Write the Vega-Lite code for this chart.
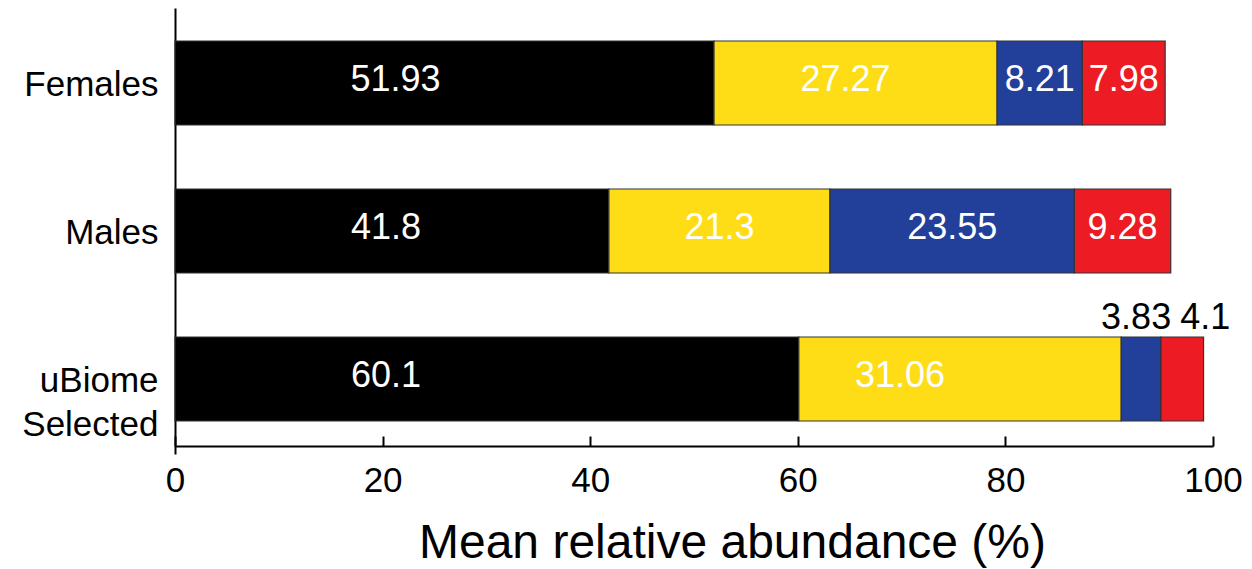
{
  "$schema": "https://vega.github.io/schema/vega-lite/v6.json",
  "autosize": "none",
  "width": 1038,
  "height": 446,
  "padding": {"left": 175, "top": 8, "right": 39, "bottom": 115},
  "background": "white",
  "config": {
    "font": "Liberation Sans",
    "view": {"stroke": null},
    "text": {"font": "Liberation Sans"}
  },
  "data": {
    "values": [
      {"group": "Females", "seg": 1, "value": 51.93},
      {"group": "Females", "seg": 2, "value": 27.27},
      {"group": "Females", "seg": 3, "value": 8.21},
      {"group": "Females", "seg": 4, "value": 7.98},
      {"group": "Males", "seg": 1, "value": 41.8},
      {"group": "Males", "seg": 2, "value": 21.3},
      {"group": "Males", "seg": 3, "value": 23.55},
      {"group": "Males", "seg": 4, "value": 9.28},
      {"group": "uBiome Selected", "seg": 1, "value": 60.1},
      {"group": "uBiome Selected", "seg": 2, "value": 31.06},
      {"group": "uBiome Selected", "seg": 3, "value": 3.83},
      {"group": "uBiome Selected", "seg": 4, "value": 4.1}
    ]
  },
  "encoding": {
    "y": {
      "field": "group",
      "type": "nominal",
      "scale": {"domain": ["Females", "Males", "uBiome Selected"], "paddingInner": 0.4324, "paddingOuter": 0.223},
      "axis": {
        "title": null,
        "ticks": false,
        "domainColor": "black",
        "domainWidth": 2,
        "labelFontSize": 35,
        "labelColor": "black",
        "labelPadding": 17,
        "labelBaseline": "alphabetic",
        "labelOffset": 13,
        "labelLineHeight": 44,
        "labelExpr": "datum.value == 'uBiome Selected' ? ['uBiome', 'Selected'] : datum.value"
      }
    }
  },
  "layer": [
    {
      "mark": {"type": "bar", "stroke": "#333333", "strokeWidth": 1.2, "height": 84},
      "encoding": {
        "x": {
          "field": "value",
          "type": "quantitative",
          "stack": "zero",
          "scale": {"domain": [0, 100], "nice": false},
          "axis": {
            "title": "Mean relative abundance (%)",
            "values": [0, 20, 40, 60, 80, 100],
            "grid": false,
            "offset": -8,
            "domainColor": "black",
            "domainWidth": 2,
            "tickColor": "black",
            "tickWidth": 2,
            "tickSize": -10,
            "labelFontSize": 35,
            "labelColor": "black",
            "labelPadding": 27,
            "labelFlush": false,
            "titleFontSize": 48,
            "titleFontWeight": "normal",
            "titleColor": "black",
            "titleX": 557,
            "titleY": 111,
            "titleBaseline": "alphabetic"
          }
        },
        "order": {"field": "seg", "type": "quantitative"},
        "color": {
          "field": "seg",
          "type": "nominal",
          "scale": {"domain": [1, 2, 3, 4], "range": ["#000000", "#FEDD17", "#22409A", "#ED1C24"]},
          "legend": null
        }
      }
    },
    {
      "transform": [
        {"stack": "value", "groupby": ["group"], "sort": [{"field": "seg"}], "as": ["lo", "hi"]},
        {"calculate": "(datum.lo + datum.hi) / 2", "as": "mid"},
        {"filter": "(datum.group == 'Females' && datum.seg >= 3) || (datum.group == 'Males' && datum.seg >= 2)"}
      ],
      "mark": {"type": "text", "color": "white", "fontSize": 36, "baseline": "alphabetic", "dy": 8},
      "encoding": {"x": {"field": "mid", "type": "quantitative"}, "text": {"field": "value", "type": "nominal"}}
    },
    {
      "transform": [
        {"stack": "value", "groupby": ["group"], "sort": [{"field": "seg"}], "as": ["lo", "hi"]},
        {"calculate": "(datum.lo + datum.hi) / 2", "as": "mid"},
        {"filter": "datum.group == 'Females' && datum.seg == 1"}
      ],
      "mark": {"type": "text", "color": "white", "fontSize": 36, "baseline": "alphabetic", "dy": 8, "dx": -49},
      "encoding": {"x": {"field": "mid", "type": "quantitative"}, "text": {"field": "value", "type": "nominal"}}
    },
    {
      "transform": [
        {"stack": "value", "groupby": ["group"], "sort": [{"field": "seg"}], "as": ["lo", "hi"]},
        {"calculate": "(datum.lo + datum.hi) / 2", "as": "mid"},
        {"filter": "datum.group == 'Females' && datum.seg == 2"}
      ],
      "mark": {"type": "text", "color": "white", "fontSize": 36, "baseline": "alphabetic", "dy": 8, "dx": -10},
      "encoding": {"x": {"field": "mid", "type": "quantitative"}, "text": {"field": "value", "type": "nominal"}}
    },
    {
      "transform": [
        {"stack": "value", "groupby": ["group"], "sort": [{"field": "seg"}], "as": ["lo", "hi"]},
        {"calculate": "(datum.lo + datum.hi) / 2", "as": "mid"},
        {"filter": "datum.group == 'Males' && datum.seg == 1"}
      ],
      "mark": {"type": "text", "color": "white", "fontSize": 36, "baseline": "alphabetic", "dy": 8, "dx": -6},
      "encoding": {"x": {"field": "mid", "type": "quantitative"}, "text": {"field": "value", "type": "nominal"}}
    },
    {
      "transform": [
        {"stack": "value", "groupby": ["group"], "sort": [{"field": "seg"}], "as": ["lo", "hi"]},
        {"calculate": "(datum.lo + datum.hi) / 2", "as": "mid"},
        {"filter": "datum.group == 'uBiome Selected' && datum.seg == 1"}
      ],
      "mark": {"type": "text", "color": "white", "fontSize": 36, "baseline": "alphabetic", "dy": 8, "dx": -101},
      "encoding": {"x": {"field": "mid", "type": "quantitative"}, "text": {"field": "value", "type": "nominal"}}
    },
    {
      "transform": [
        {"stack": "value", "groupby": ["group"], "sort": [{"field": "seg"}], "as": ["lo", "hi"]},
        {"calculate": "(datum.lo + datum.hi) / 2", "as": "mid"},
        {"filter": "datum.group == 'uBiome Selected' && datum.seg == 2"}
      ],
      "mark": {"type": "text", "color": "white", "fontSize": 36, "baseline": "alphabetic", "dy": 8, "dx": -60},
      "encoding": {"x": {"field": "mid", "type": "quantitative"}, "text": {"field": "value", "type": "nominal"}}
    },
    {
      "transform": [
        {"stack": "value", "groupby": ["group"], "sort": [{"field": "seg"}], "as": ["lo", "hi"]},
        {"calculate": "(datum.lo + datum.hi) / 2", "as": "mid"},
        {"filter": "datum.group == 'uBiome Selected' && datum.seg == 3"}
      ],
      "mark": {"type": "text", "color": "black", "fontSize": 36, "baseline": "alphabetic", "dy": -50, "dx": -5},
      "encoding": {"x": {"field": "mid", "type": "quantitative"}, "text": {"field": "value", "type": "nominal"}}
    },
    {
      "transform": [
        {"stack": "value", "groupby": ["group"], "sort": [{"field": "seg"}], "as": ["lo", "hi"]},
        {"calculate": "(datum.lo + datum.hi) / 2", "as": "mid"},
        {"filter": "datum.group == 'uBiome Selected' && datum.seg == 4"}
      ],
      "mark": {"type": "text", "color": "black", "fontSize": 36, "baseline": "alphabetic", "dy": -50, "dx": 23},
      "encoding": {"x": {"field": "mid", "type": "quantitative"}, "text": {"field": "value", "type": "nominal"}}
    }
  ]
}
